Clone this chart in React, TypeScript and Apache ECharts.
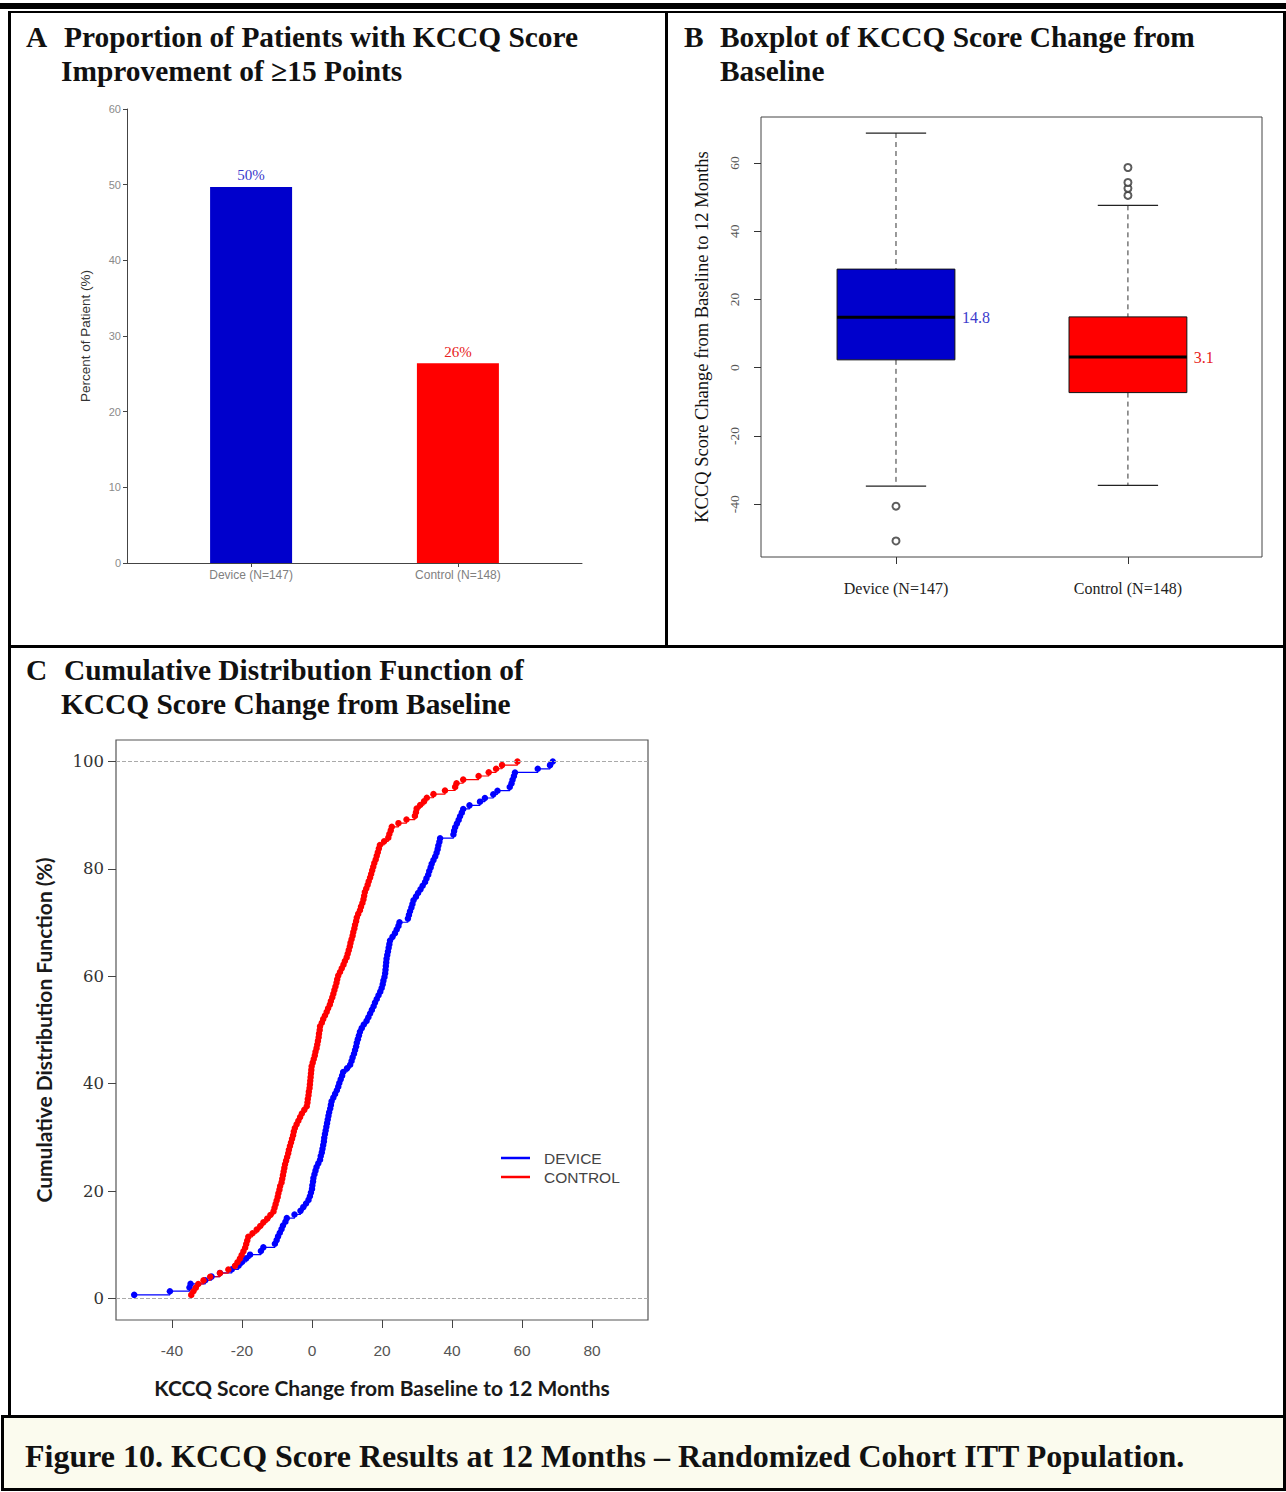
import React, { useEffect, useRef } from "react";
import * as echarts from "echarts";

// ---------- Panel A: proportion with >=15 point improvement ----------
const barCategories = ["Device (N=147)", "Control (N=148)"];
const barPositions = [1, 2];
const barValues = [49.7, 26.4];
const barColors = ["#0000cc", "#ff0000"];
const barLabelColors = ["#3a3acc", "#e82020"];
const barYTicks = [0, 10, 20, 30, 40, 50, 60];

// ---------- Panel B: boxplot ----------
const boxCategories = ["Device (N=147)", "Control (N=148)"];
const boxPositions = [1, 2];
// lower whisker, Q1, median, Q3, upper whisker
const deviceBox = [-34.7, 2.3, 14.8, 28.9, 68.8];
const controlBox = [-34.5, -7.3, 3.1, 14.9, 47.6];
const boxMedianLabels = ["14.8", "3.1"];
const deviceOutliers = [-40.6, -50.8];
const controlOutliers = [50.5, 52.6, 54.3, 58.7];
const boxYTicks = [-40, -20, 0, 20, 40, 60];

// ---------- Panel C: CDF (sorted individual score changes) ----------
const deviceScores = [
  -50.8, -40.6, -35, -34.7, -30.5, -28.7, -26.3, -22.9, -21, -20,
  -18.8, -17.7, -14.6, -13.9, -10.6, -10.1, -9.7, -9.2, -8.7, -8.3,
  -7.6, -7.2, -5, -3.3, -2.5, -1.7, -1, -0.6, -0.3, 0,
  0.1, 0.3, 0.4, 0.7, 1, 1.3, 1.8, 2.3, 2.5, 2.8,
  3.0, 3.2, 3.4, 3.5, 3.7, 3.9, 4.1, 4.3, 4.5, 4.7,
  4.9, 5.2, 5.4, 5.6, 6.1, 6.6, 7.1, 7.5, 7.8, 8.2,
  8.6, 8.9, 10, 10.9, 11.3, 11.6, 12, 12.3, 12.6, 12.8,
  13.1, 13.4, 13.7, 14.2, 14.8, 15.6, 16.1, 16.6, 17.1, 17.6,
  18, 18.5, 19, 19.5, 19.9, 20.2, 20.4, 20.7, 20.9, 21,
  21.1, 21.2, 21.3, 21.5, 21.7, 21.9, 22.1, 22.3, 23, 23.7,
  24.2, 24.7, 25, 27.4, 27.7, 28, 28.4, 28.7, 29, 29.7,
  30.3, 31, 31.6, 32.3, 32.7, 33.2, 33.5, 33.9, 34.2, 34.7,
  35.2, 35.6, 35.9, 36.1, 36.4, 36.6, 40.4, 40.6, 40.9, 41.4,
  41.9, 42.3, 42.8, 43.2, 45, 48, 49.4, 51.8, 53, 56.5,
  57, 57.3, 57.7, 58, 64.5, 68, 68.8,
];
const controlScores = [
  -34.5, -33.9, -33.2, -32.5, -31, -29.1, -26.3, -23.9, -22, -21.3,
  -20.6, -20.1, -19.6, -19.1, -18.8, -18.5, -18.2, -17, -15.8, -14.8,
  -13.9, -12.8, -11.9, -11, -10.7, -10.4, -10.1, -9.8, -9.6, -9.3,
  -9.1, -8.7, -8.5, -8.3, -8.1, -7.9, -7.7, -7.4, -7.1, -6.8,
  -6.6, -6.3, -6, -5.7, -5.4, -5.2, -4.9, -4.4, -3.9, -3.4,
  -2.9, -2.2, -1.5, -1.3, -1.2, -1, -0.9, -0.7, -0.6, -0.5,
  -0.4, -0.3, -0.2, -0.1, 0.2, 0.5, 0.8, 1.0, 1.3, 1.5,
  1.7, 1.9, 2.0, 2.2, 2.3, 2.8, 3.2, 3.7, 4.2, 4.6,
  5.1, 5.4, 5.8, 6.1, 6.4, 6.7, 7.0, 7.2, 7.5, 8.0,
  8.5, 9.0, 9.4, 9.9, 10.2, 10.5, 10.8, 11.0, 11.3, 11.6,
  11.8, 12.1, 12.3, 12.6, 12.8, 13.2, 13.7, 14.0, 14.4, 14.7,
  14.9, 15.1, 15.5, 15.9, 16.2, 16.6, 16.9, 17.2, 17.5, 17.8,
  18.2, 18.5, 18.8, 19.1, 19.4, 20.6, 21.8, 22.1, 22.5, 22.8,
  24.7, 27, 29.4, 29.7, 29.9, 30.9, 32, 32.8, 34.7, 38,
  40.9, 41.3, 43.2, 47.6, 50.5, 52.6, 54.3, 58.7,
];
const cdfXTicks = [-40, -20, 0, 20, 40, 60, 80];
const cdfYTicks = [0, 20, 40, 60, 80, 100];
const cdfSeriesNames = ["DEVICE", "CONTROL"];
const cdfColors = ["#0000ff", "#ff0000"];

const SERIF = '"Liberation Serif", "Times New Roman", serif';
const SANS = '"Liberation Sans", Arial, sans-serif';
const TITLE_FONT = `bold 29.4px ${SERIF}`;

function ecdf(scores: number[]) {
  const n = scores.length;
  return scores.map((v, i) => [v, ((i + 1) / n) * 100]);
}

function buildOption() {
  const boxData = [
    [boxPositions[0], ...deviceBox],
    [boxPositions[1], ...controlBox],
  ];
  const outlierData = [
    ...deviceOutliers.map((v) => [boxPositions[0], v]),
    ...controlOutliers.map((v) => [boxPositions[1], v]),
  ];

  const blackRect = (x: number, y: number, w: number, h: number) => ({
    type: "rect",
    shape: { x, y, width: w, height: h },
    style: { fill: "#000" },
    silent: true,
    z: 100,
  });
  const title = (text: string, x: number, y: number) => ({
    type: "text",
    x,
    y,
    style: { text, font: TITLE_FONT, fill: "#111", verticalAlign: "middle", align: "left" },
    z: 100,
  });

  return {
    animation: false,
    backgroundColor: "#ffffff",
    grid: [
      { left: 127, top: 109, width: 455, height: 454, show: false },
      {
        left: 761, top: 117, width: 501, height: 440, show: true,
        borderColor: "#444", borderWidth: 1, backgroundColor: "transparent",
      },
      {
        left: 116, top: 740, width: 532, height: 580, show: true,
        borderColor: "#555", borderWidth: 1.2, backgroundColor: "transparent",
      },
    ],
    xAxis: [
      {
        gridIndex: 0, type: "value", min: 0.4, max: 2.6,
        axisLine: { show: true, onZero: false, lineStyle: { color: "#444", width: 1 } },
        axisTick: { show: true, customValues: barPositions, length: 4, lineStyle: { color: "#444" } },
        axisLabel: {
          customValues: barPositions,
          formatter: (v: number) => barCategories[barPositions.indexOf(v)] ?? "",
          color: "#808080", fontSize: 12, fontFamily: SANS, margin: 6,
        },
        splitLine: { show: false },
      },
      {
        gridIndex: 1, type: "value", min: 0.418, max: 2.578,
        axisLine: { show: false, onZero: false },
        axisTick: { show: true, customValues: boxPositions, length: 7, inside: false, lineStyle: { color: "#333" } },
        axisLabel: {
          customValues: boxPositions,
          formatter: (v: number) => boxCategories[boxPositions.indexOf(v)] ?? "",
          color: "#222", fontSize: 16, fontFamily: SERIF, margin: 23,
        },
        splitLine: { show: false },
      },
      {
        gridIndex: 2, type: "value", min: -56, max: 96,
        axisLine: { show: false, onZero: false },
        axisTick: { show: true, customValues: cdfXTicks, length: 8, lineStyle: { color: "#444" } },
        axisLabel: { customValues: cdfXTicks, color: "#555", fontSize: 15.5, fontFamily: SANS, margin: 22 },
        splitLine: { show: false },
        name: "KCCQ Score Change from Baseline to 12 Months",
        nameLocation: "middle", nameGap: 57,
        nameTextStyle: { fontFamily: "Lato, sans-serif", fontWeight: "bold", fontSize: 21, color: "#1a1a1a" },
      },
    ],
    yAxis: [
      {
        gridIndex: 0, type: "value", min: 0, max: 60, interval: 10,
        axisLine: { show: true, onZero: false, lineStyle: { color: "#444", width: 1 } },
        axisTick: { show: true, length: 4, lineStyle: { color: "#444" } },
        axisLabel: { color: "#8a8a8a", fontSize: 11, fontFamily: SANS, margin: 6 },
        splitLine: { show: false },
        name: "Percent of Patient (%)",
        nameLocation: "middle", nameGap: 35,
        nameTextStyle: { fontFamily: SANS, fontSize: 13.5, color: "#333" },
      },
      {
        gridIndex: 1, type: "value", min: -55.5, max: 73.5,
        axisLine: { show: false, onZero: false },
        axisTick: { show: true, customValues: boxYTicks, length: 7, lineStyle: { color: "#333" } },
        axisLabel: { customValues: boxYTicks, rotate: 90, color: "#555", fontSize: 13.5, fontFamily: SERIF, margin: 20 },
        splitLine: { show: false },
        name: "KCCQ Score Change from Baseline to 12 Months",
        nameLocation: "middle", nameGap: 50,
        nameTextStyle: { fontFamily: SERIF, fontSize: 18.5, color: "#111" },
      },
      {
        gridIndex: 2, type: "value", min: -4, max: 104,
        axisLine: { show: false, onZero: false },
        axisTick: { show: true, customValues: cdfYTicks, length: 8, lineStyle: { color: "#444" } },
        axisLabel: { customValues: cdfYTicks, color: "#333", fontSize: 16.5, fontFamily: '"DejaVu Serif", serif', margin: 12 },
        splitLine: { show: false },
        name: "Cumulative Distribution Function (%)",
        nameLocation: "middle", nameGap: 62,
        nameTextStyle: { fontFamily: "Lato, sans-serif", fontWeight: "bold", fontSize: 21, color: "#1a1a1a" },
      },
    ],
    series: [
      {
        type: "bar", name: "Proportion", xAxisIndex: 0, yAxisIndex: 0, barWidth: 82,
        data: barValues.map((v, i) => ({
          value: [barPositions[i], v],
          itemStyle: { color: barColors[i] },
          label: { color: barLabelColors[i] },
        })),
        label: {
          show: true, position: "top", distance: 4, fontFamily: SERIF, fontSize: 15,
          formatter: (p: any) => `${Math.round(p.value[1])}%`,
        },
      },
      {
        type: "custom", name: "Boxplot", xAxisIndex: 1, yAxisIndex: 1,
        data: boxData,
        encode: { x: 0, y: [1, 2, 3, 4, 5] },
        renderItem: (params: any, api: any) => {
          const x = api.value(0);
          const lo = api.value(1), q1 = api.value(2), med = api.value(3), q3 = api.value(4), hi = api.value(5);
          const idx = params.dataIndex;
          const hw = 0.254, cw = 0.13;
          const pHi = api.coord([x, hi]);
          const pLo = api.coord([x, lo]);
          const pQ3 = api.coord([x, q3]);
          const pQ1 = api.coord([x, q1]);
          const tl = api.coord([x - hw, q3]);
          const br = api.coord([x + hw, q1]);
          const capL = api.coord([x - cw, hi])[0];
          const capR = api.coord([x + cw, hi])[0];
          const medL = api.coord([x - hw, med]);
          const medR = api.coord([x + hw, med]);
          const dash = { stroke: "#333", lineWidth: 1, lineDash: [5, 4] };
          const solid = { stroke: "#222", lineWidth: 1.2 };
          return {
            type: "group",
            children: [
              { type: "line", shape: { x1: pHi[0], y1: pHi[1], x2: pQ3[0], y2: pQ3[1] }, style: dash },
              { type: "line", shape: { x1: pQ1[0], y1: pQ1[1], x2: pLo[0], y2: pLo[1] }, style: dash },
              { type: "line", shape: { x1: capL, y1: pHi[1], x2: capR, y2: pHi[1] }, style: solid },
              { type: "line", shape: { x1: capL, y1: pLo[1], x2: capR, y2: pLo[1] }, style: solid },
              {
                type: "rect",
                shape: { x: tl[0], y: tl[1], width: br[0] - tl[0], height: br[1] - tl[1] },
                style: { fill: barColors[idx], stroke: "#111", lineWidth: 1 },
              },
              { type: "line", shape: { x1: medL[0], y1: medL[1], x2: medR[0], y2: medR[1] }, style: { stroke: "#000", lineWidth: 3 } },
              {
                type: "text", x: medR[0] + 7, y: medR[1],
                style: { text: boxMedianLabels[idx], fill: barLabelColors[idx], font: `16px ${SERIF}`, verticalAlign: "middle", align: "left" },
              },
            ],
          };
        },
      },
      {
        type: "scatter", name: "Outliers", xAxisIndex: 1, yAxisIndex: 1,
        data: outlierData, symbol: "emptyCircle", symbolSize: 7,
        itemStyle: { color: "#333", borderWidth: 1 },
      },
      ...[deviceScores, controlScores].map((scores, k) => ({
        type: "line", name: cdfSeriesNames[k], xAxisIndex: 2, yAxisIndex: 2,
        data: ecdf(scores), step: "end", symbol: "circle", symbolSize: 6.5,
        showSymbol: true, showAllSymbol: true,
        lineStyle: { color: cdfColors[k], width: 1.2 },
        itemStyle: { color: cdfColors[k] },
        ...(k === 0
          ? {
              markLine: {
                silent: true, symbol: "none", label: { show: false },
                lineStyle: { color: "#aaa", type: "dashed", width: 1 },
                data: [{ yAxis: 0 }, { yAxis: 100 }],
              },
            }
          : {}),
      })),
    ],
    graphic: [
      // frame
      blackRect(0, 3, 1286, 6),
      blackRect(8, 11, 1278, 2),
      blackRect(8, 11, 3, 1407),
      blackRect(665, 11, 3, 636),
      blackRect(1283, 11, 3, 1407),
      blackRect(8, 645, 1278, 3),
      {
        type: "rect", shape: { x: 2.5, y: 1416.5, width: 1282, height: 73 },
        style: { fill: "#fbfbee", stroke: "#000", lineWidth: 3 }, z: 100,
      },
      // titles
      title("A", 26, 37),
      title("Proportion of Patients with KCCQ Score", 64, 37),
      title("Improvement of \u226515 Points", 61, 71),
      title("B", 684, 37),
      title("Boxplot of KCCQ Score Change from", 720, 37),
      title("Baseline", 720, 71),
      title("C", 26, 670),
      title("Cumulative Distribution Function of", 64, 670),
      title("KCCQ Score Change from Baseline", 61, 704),
      {
        type: "text", x: 25, y: 1456,
        style: {
          text: "Figure 10. KCCQ Score Results at 12 Months \u2013 Randomized Cohort ITT Population.",
          font: `bold 32px ${SERIF}`, fill: "#111", verticalAlign: "middle", align: "left",
        },
        z: 101,
      },
      // CDF legend
      { type: "line", shape: { x1: 501, y1: 1158, x2: 530, y2: 1158 }, style: { stroke: cdfColors[0], lineWidth: 2.5 }, z: 50 },
      { type: "line", shape: { x1: 501, y1: 1177, x2: 530, y2: 1177 }, style: { stroke: cdfColors[1], lineWidth: 2.5 }, z: 50 },
      { type: "text", x: 544, y: 1158, style: { text: cdfSeriesNames[0], font: `15.5px ${SANS}`, fill: "#444", verticalAlign: "middle" }, z: 50 },
      { type: "text", x: 544, y: 1177, style: { text: cdfSeriesNames[1], font: `15.5px ${SANS}`, fill: "#444", verticalAlign: "middle" }, z: 50 },
    ],
  };
}

export default function App() {
  const ref = useRef<HTMLDivElement>(null);
  useEffect(() => {
    if (!ref.current) return;
    const chart = echarts.init(ref.current, undefined, { renderer: "svg" });
    chart.setOption(buildOption() as any);
    return () => chart.dispose();
  }, []);
  return (
    <div
      ref={ref}
      style={{ position: "absolute", left: 0, top: 0, width: 1286, height: 1492, background: "#fff" }}
    />
  );
}
